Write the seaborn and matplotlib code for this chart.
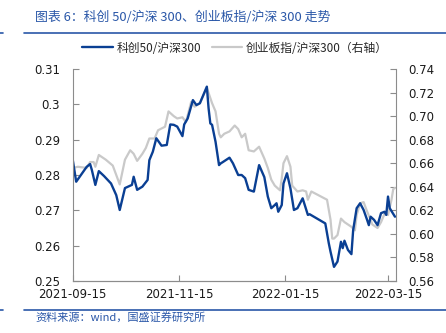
import matplotlib
matplotlib.use("Agg")
import matplotlib.pyplot as plt
import matplotlib.dates as mdates
from matplotlib.lines import Line2D
import seaborn as sns
import pandas as pd

# ---- data ----
kc50_dates = [
    "2021-09-15", "2021-09-17", "2021-09-23", "2021-09-25", "2021-09-26", "2021-09-28", "2021-09-30",
    "2021-10-03", "2021-10-07", "2021-10-10", "2021-10-12", "2021-10-15", "2021-10-19", "2021-10-20",
    "2021-10-22", "2021-10-25", "2021-10-28", "2021-10-29", "2021-10-31", "2021-11-02", "2021-11-05",
    "2021-11-08", "2021-11-10", "2021-11-12", "2021-11-14", "2021-11-17", "2021-11-18", "2021-11-20",
    "2021-11-23", "2021-11-25", "2021-11-27", "2021-12-01", "2021-12-02", "2021-12-03", "2021-12-04",
    "2021-12-06", "2021-12-08", "2021-12-09", "2021-12-10", "2021-12-14", "2021-12-16", "2021-12-19",
    "2021-12-21", "2021-12-23", "2021-12-25", "2021-12-28", "2021-12-31", "2022-01-03", "2022-01-05",
    "2022-01-07", "2022-01-09", "2022-01-10", "2022-01-11", "2022-01-13", "2022-01-14", "2022-01-16",
    "2022-01-18", "2022-01-20", "2022-01-22", "2022-01-25", "2022-01-28", "2022-01-29", "2022-02-07",
    "2022-02-09", "2022-02-10", "2022-02-12", "2022-02-14", "2022-02-16", "2022-02-17", "2022-02-18",
    "2022-02-20", "2022-02-22", "2022-02-23", "2022-02-25", "2022-02-27", "2022-03-01", "2022-03-03",
    "2022-03-04", "2022-03-05", "2022-03-07", "2022-03-09", "2022-03-11", "2022-03-13", "2022-03-14",
    "2022-03-15", "2022-03-16", "2022-03-19",
]
kc50_values = [
    0.2844, 0.2781, 0.2823, 0.2831, 0.2814, 0.2772, 0.2811,
    0.2797, 0.2776, 0.2743, 0.2701, 0.2763, 0.2772, 0.2795,
    0.2758, 0.2767, 0.2786, 0.2842, 0.2866, 0.2904, 0.2883,
    0.2885, 0.2943, 0.2942, 0.2937, 0.2910, 0.2943, 0.2960,
    0.3012, 0.2998, 0.3003, 0.3050, 0.2989, 0.2946, 0.2942,
    0.2894, 0.2828, 0.2833, 0.2836, 0.2849, 0.2833, 0.2800,
    0.2800, 0.2791, 0.2758, 0.2753, 0.2828, 0.2794, 0.2739,
    0.2706, 0.2715, 0.2720, 0.2696, 0.2715, 0.2776, 0.2805,
    0.2762, 0.2701, 0.2706, 0.2734, 0.2687, 0.2689, 0.2663,
    0.2607, 0.2583, 0.2540, 0.2555, 0.2611, 0.2593, 0.2614,
    0.2588, 0.2576, 0.2644, 0.2706, 0.2720, 0.2701, 0.2673,
    0.2658, 0.2682, 0.2673, 0.2658, 0.2692, 0.2696, 0.2687,
    0.2739, 0.2706, 0.2682,
]

cyb_dates = [
    "2021-09-15", "2021-09-18", "2021-09-23", "2021-09-25", "2021-09-27", "2021-09-28", "2021-09-30",
    "2021-10-04", "2021-10-08", "2021-10-12", "2021-10-15", "2021-10-18", "2021-10-20", "2021-10-22",
    "2021-10-25", "2021-10-27", "2021-10-29", "2021-11-01", "2021-11-03", "2021-11-07", "2021-11-09",
    "2021-11-12", "2021-11-14", "2021-11-17", "2021-11-19", "2021-11-22", "2021-11-24", "2021-11-27",
    "2021-12-01", "2021-12-04", "2021-12-06", "2021-12-08", "2021-12-09", "2021-12-11", "2021-12-14",
    "2021-12-17", "2021-12-19", "2021-12-21", "2021-12-23", "2021-12-25", "2021-12-28", "2021-12-31",
    "2022-01-03", "2022-01-05", "2022-01-07", "2022-01-09", "2022-01-12", "2022-01-13", "2022-01-14",
    "2022-01-16", "2022-01-18", "2022-01-19", "2022-01-22", "2022-01-25", "2022-01-27", "2022-01-28",
    "2022-01-30", "2022-02-08", "2022-02-10", "2022-02-11", "2022-02-12", "2022-02-14", "2022-02-16",
    "2022-02-18", "2022-02-20", "2022-02-22", "2022-02-24", "2022-02-25", "2022-02-27", "2022-03-01",
    "2022-03-03", "2022-03-05", "2022-03-06", "2022-03-09", "2022-03-11", "2022-03-13", "2022-03-15",
    "2022-03-17", "2022-03-18", "2022-03-19",
]
cyb_values = [
    0.656, 0.657, 0.656, 0.661, 0.661, 0.657, 0.667,
    0.663, 0.658, 0.642, 0.663, 0.671, 0.668, 0.662,
    0.668, 0.673, 0.681, 0.681, 0.688, 0.691, 0.704,
    0.700, 0.698, 0.699, 0.695, 0.712, 0.708, 0.711,
    0.724, 0.711, 0.704, 0.685, 0.682, 0.685, 0.687,
    0.692, 0.689, 0.682, 0.685, 0.671, 0.670, 0.674,
    0.664, 0.656, 0.646, 0.641, 0.637, 0.647, 0.660,
    0.666, 0.657, 0.641, 0.636, 0.637, 0.636, 0.629,
    0.636, 0.629, 0.612, 0.596, 0.596, 0.599, 0.613,
    0.610, 0.608, 0.606, 0.603, 0.616, 0.626, 0.627,
    0.619, 0.612, 0.608, 0.605, 0.610, 0.617, 0.616,
    0.629, 0.638, 0.639,
]

left_ticks = [0.25, 0.26, 0.27, 0.28, 0.29, 0.30, 0.31]
left_labels = ["0.25", "0.26", "0.27", "0.28", "0.29", "0.3", "0.31"]
right_ticks = [0.56, 0.58, 0.60, 0.62, 0.64, 0.66, 0.68, 0.70, 0.72, 0.74]
x_ticks = ["2021-09-15", "2021-11-15", "2022-01-15", "2022-03-15"]

title_text = "图表 6：科创 50/沪深 300、创业板指/沪深 300 走势"
source_text = "资料来源：wind，国盛证券研究所"
label_kc = "科创50/沪深300"
label_cyb = "创业板指/沪深300（右轴）"

# ---- style ----
sns.set_style("white")
plt.rcParams["font.family"] = ["DejaVu Sans", "Noto Sans CJK SC"]
CJK = ["Noto Sans CJK SC", "DejaVu Sans"]

BLUE = "#0a3f93"
GRAY = "#c9c9c9"
TITLE_BLUE = "#2a57a8"
AXIS_GRAY = "#8c8c8c"

df_kc = pd.DataFrame({"date": pd.to_datetime(kc50_dates), "value": kc50_values})
df_cyb = pd.DataFrame({"date": pd.to_datetime(cyb_dates), "value": cyb_values})

fig = plt.figure(figsize=(4.46, 3.33), dpi=100)
ax = fig.add_axes([72.7 / 446, 1 - 281 / 333, (395.7 - 72.7) / 446, (281 - 69) / 333])
ax2 = ax.twinx()

sns.lineplot(data=df_cyb, x="date", y="value", ax=ax2, color=GRAY, linewidth=1.6)
sns.lineplot(data=df_kc, x="date", y="value", ax=ax, color=BLUE, linewidth=1.7)

# draw the blue axis on top
ax.set_zorder(ax2.get_zorder() + 1)
ax.patch.set_visible(False)

ax.set_ylim(0.25, 0.31)
ax2.set_ylim(0.56, 0.74)
ax.set_xlim(pd.Timestamp("2021-09-15"), pd.Timestamp("2022-03-19 10:00"))

ax.set_yticks(left_ticks)
ax.set_yticklabels(left_labels)
ax2.set_yticks(right_ticks)
ax2.set_yticklabels([f"{v:.2f}" for v in right_ticks])
ax.set_xticks(pd.to_datetime(x_ticks))
ax.xaxis.set_major_formatter(mdates.DateFormatter("%Y-%m-%d"))

for a in (ax, ax2):
    a.set_xlabel("")
    a.set_ylabel("")
    a.grid(False)
    for s in a.spines.values():
        s.set_color(AXIS_GRAY)
        s.set_linewidth(0.8)
    a.spines["top"].set_visible(False)
    a.tick_params(direction="in", length=4, width=0.8, color=AXIS_GRAY,
                  labelsize=8.5, labelcolor="#1a1a1a", pad=4)
ax.spines["right"].set_visible(False)
ax2.spines["left"].set_visible(False)
ax.tick_params(axis="y", left=True, right=False, pad=9)
ax2.tick_params(axis="y", right=True, left=False, pad=9)
ax.tick_params(axis="x", bottom=True, pad=5)
if ax.get_legend():
    ax.get_legend().remove()

# ---- legend ----
handles = [Line2D([], [], color=BLUE, linewidth=1.7),
           Line2D([], [], color=GRAY, linewidth=1.6)]
fig.legend(handles, [label_kc, label_cyb], loc="center", bbox_to_anchor=(235 / 446, 1 - 48 / 333),
           ncol=2, frameon=False, prop={"family": CJK, "size": 8.5},
           handlelength=2.6, handletextpad=0.3, columnspacing=0.9, borderaxespad=0)

# ---- title, rules and source ----
fig.text(35 / 446, 1 - 17 / 333, title_text, family=CJK, fontsize=9.3, color=TITLE_BLUE,
         style="italic", va="center", ha="left")
fig.add_artist(Line2D([24 / 446, 1], [1 - 32.7 / 333] * 2, color=TITLE_BLUE, linewidth=1.2))
fig.add_artist(Line2D([0, 3 / 446], [1 - 32.7 / 333] * 2, color=TITLE_BLUE, linewidth=1.2))
fig.add_artist(Line2D([24 / 446, 1], [1 - 309.5 / 333] * 2, color=TITLE_BLUE, linewidth=1.2))
fig.add_artist(Line2D([0, 3 / 446], [1 - 309.5 / 333] * 2, color=TITLE_BLUE, linewidth=1.2))
fig.text(35 / 446, 1 - 317 / 333, source_text, family=CJK, fontsize=8, color=TITLE_BLUE,
         style="italic", va="center", ha="left")

fig.savefig("out.png", dpi=100)
